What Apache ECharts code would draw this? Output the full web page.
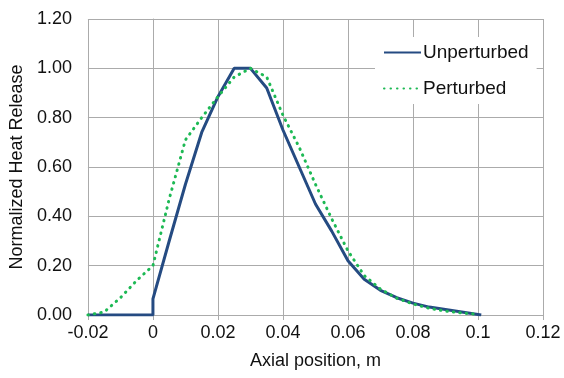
<!DOCTYPE html>
<html>
<head>
<meta charset="utf-8">
<script src="https://cdn.jsdelivr.net/npm/echarts@6/dist/echarts.min.js"></script>
<style>
html,body{margin:0;padding:0;background:#fff;}
#c{width:564px;height:378px;}
</style>
</head>
<body>
<div id="c"></div>
<script>
// Unperturbed profile
var unpX = [-0.02, 0, 0, 0.005, 0.01, 0.015, 0.02, 0.025, 0.03, 0.035, 0.04, 0.045, 0.05, 0.055, 0.06, 0.065, 0.07, 0.075, 0.08, 0.085, 0.09, 0.095, 0.101];
var unpY = [0, 0, 0.065, 0.30, 0.53, 0.74, 0.885, 1.0, 1.0, 0.92, 0.75, 0.60, 0.45, 0.34, 0.22, 0.145, 0.10, 0.07, 0.048, 0.032, 0.022, 0.012, 0];
// Perturbed profile
var perX = [-0.02, -0.015, -0.01, -0.005, 0, 0.005, 0.01, 0.015, 0.02, 0.025, 0.03, 0.035, 0.04, 0.045, 0.05, 0.055, 0.06, 0.065, 0.07, 0.075, 0.08, 0.085, 0.09, 0.095, 0.1];
var perY = [0, 0.012, 0.07, 0.14, 0.20, 0.47, 0.71, 0.80, 0.885, 0.965, 1.0, 0.965, 0.81, 0.68, 0.53, 0.39, 0.26, 0.16, 0.105, 0.068, 0.045, 0.027, 0.016, 0.008, 0.003];
var seriesNames = ['Unperturbed', 'Perturbed'];
var xTitle = 'Axial position, m';
var yTitle = 'Normalized Heat Release';

function pairs(xs, ys){ return xs.map(function(x,i){ return [x, ys[i]]; }); }

var grey = '#ABABAB';
var font = 'Liberation Sans, Arial, sans-serif';
var chart = echarts.init(document.getElementById('c'), null, {renderer:'canvas'});
chart.setOption({
  animation: false,
  backgroundColor: '#fff',
  grid: {left: 87, right: 21, top: 19, bottom: 63},
  xAxis: {
    type: 'value', min: -0.02, max: 0.12, interval: 0.02,
    name: xTitle, nameLocation: 'middle', nameGap: 37,
    nameTextStyle: {color: '#111', fontSize: 18, fontFamily: font},
    axisLine: {show: true, onZero: false, lineStyle: {color: grey}},
    axisTick: {show: true, length: 5, lineStyle: {color: grey}},
    axisLabel: {color: '#111', fontSize: 18, fontFamily: font, margin: 9,
      formatter: function(v){ return String(Math.round(v*1000)/1000); }},
    splitLine: {show: true, lineStyle: {color: grey}}
  },
  yAxis: {
    type: 'value', min: 0, max: 1.2, interval: 0.2,
    name: yTitle, nameLocation: 'middle', nameGap: 61,
    nameTextStyle: {color: '#111', fontSize: 18, fontFamily: font},
    axisLine: {show: true, lineStyle: {color: grey}},
    axisTick: {show: true, length: 5, lineStyle: {color: grey}},
    axisLabel: {color: '#111', fontSize: 18, fontFamily: font, margin: 16,
      formatter: function(v){ return v.toFixed(2); }},
    splitLine: {show: true, lineStyle: {color: grey}}
  },
  legend: {
    orient: 'vertical', left: 375, top: 37,
    padding: [6, 8, 6, 8],
    backgroundColor: '#fff',
    itemWidth: 37, itemHeight: 14, itemGap: 17,
    itemStyle: {opacity: 0},
    textStyle: {color: '#111', fontSize: 19, fontFamily: font, padding: [0,0,0,-3]},
    data: seriesNames
  },
  series: [
    {name: seriesNames[0], type: 'line', data: pairs(unpX, unpY), showSymbol: false, symbol: 'none',
     color: '#254B82', lineStyle: {color: '#254B82', width: 3}},
    {name: seriesNames[1], type: 'line', data: pairs(perX, perY), showSymbol: false, symbol: 'none',
     color: '#1DB954', lineStyle: {color: '#1DB954', width: 3, type: [0.5, 6], cap: 'round'}}
  ]
});
</script>
</body>
</html>
